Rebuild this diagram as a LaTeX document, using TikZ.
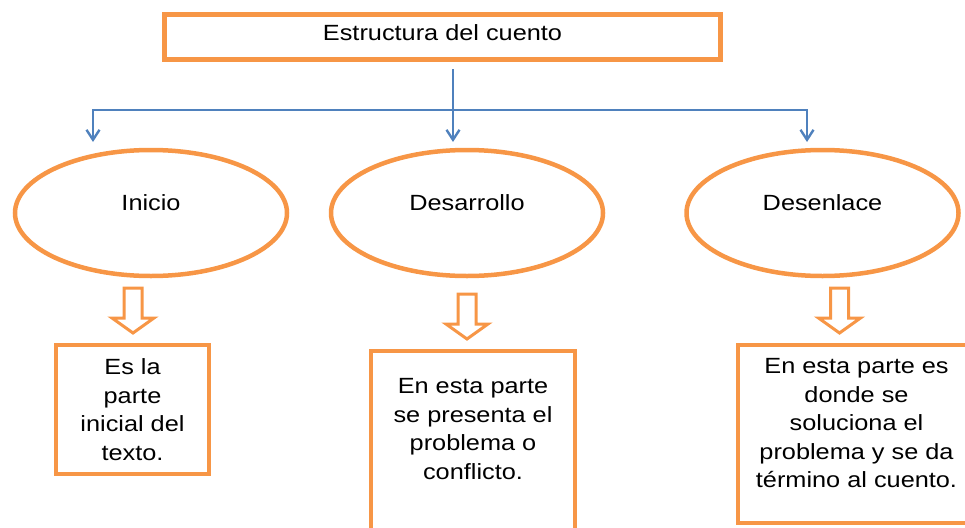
\documentclass[tikz,border=0pt]{standalone}
\usepackage{fontspec}
\setmainfont{Liberation Sans}[FakeStretch=1.15]
\usetikzlibrary{shapes.geometric,arrows.meta,calc}
\definecolor{naranja}{HTML}{F79646}
\definecolor{azul}{HTML}{4F81BD}
\tikzset{
  caja/.style={draw=naranja,line width=4pt,align=center,inner sep=0pt},
  elipse/.style={draw=naranja,line width=4.5pt,ellipse,inner sep=0pt,
    minimum width=272pt,minimum height=126pt,text height=16pt,text depth=22pt},
  punta/.tip={Straight Barb[length=10pt,width=13pt]},
  flecha/.style={draw=azul,line width=2.4pt,-punta},
  hueca/.style={draw=naranja,line width=3pt,fill=white},
}
\begin{document}
\begin{tikzpicture}[x=1pt,y=-1pt,font=\fontsize{22}{28.5}\selectfont]
\useasboundingbox (0,0) rectangle (965,527);
% titulo
\node[caja,line width=5pt,minimum width=556pt,minimum height=45pt,text height=16pt,text depth=8pt] (titulo) at (442.5,37) {Estructura del cuento};
% partes
\node[elipse] (ini) at (151,213) {Inicio};
\node[elipse] (des) at (467,213) {Desarrollo};
\node[elipse] (fin) at (822.5,213) {Desenlace};
% ramas azules
\coordinate (origen) at (453,69);
\coordinate (ramaA) at (93,110);
\coordinate (ramaC) at (807,110);
\coordinate (puntaA) at (93,142);
\coordinate (puntaB) at (453,142);
\coordinate (puntaC) at (807,142);
\draw[flecha] (origen)--(puntaB);
\draw[flecha,punta-punta] (puntaA)--(ramaA)--(ramaC)--(puntaC);
% flechas huecas
\foreach \cx/\yt in {133/288,467/294,839.5/288}{\draw[hueca] (\cx-9,\yt)--++(18,0)--++(0,30)--++(12,0)--++(-21,15)--++(-21,-15)--++(12,0)--cycle;}
% cajas
\node[caja,minimum width=153pt,minimum height=129pt] (cajaA) at (132.5,409.5) {Es la\\parte\\inicial del\\texto.};
\node[caja,minimum width=204pt,minimum height=189pt,text depth=33pt] (cajaB) at (473,445.5) {En esta parte\\se presenta el\\problema o\\conflicto.};
\node[caja,minimum width=237pt,minimum height=178pt,text depth=22pt] (cajaC) at (856.5,434) {En esta parte es\\donde se\\soluciona el\\problema y se da\\término al cuento.};
\end{tikzpicture}
\end{document}
